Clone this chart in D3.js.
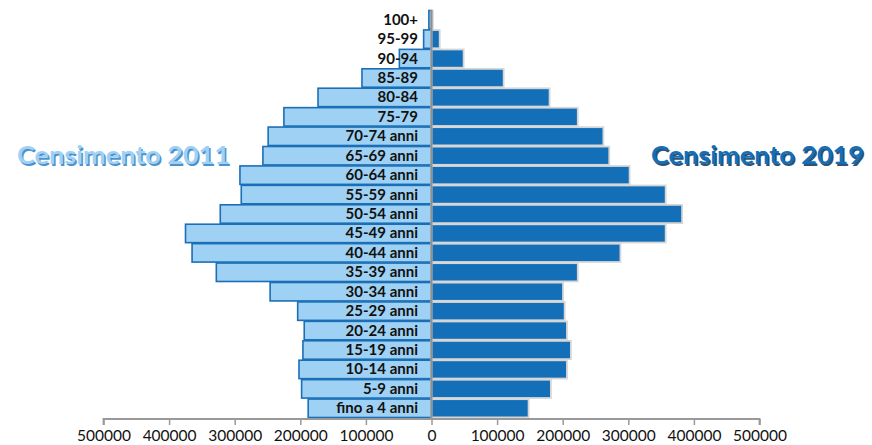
<!DOCTYPE html>
<html>
<head>
<meta charset="utf-8">
<script src="https://cdn.jsdelivr.net/npm/d3@7"></script>
<style>
  html, body { margin: 0; padding: 0; background: #fff; }
  svg { display: block; }
</style>
</head>
<body>
<svg id="chart" width="872" height="445"></svg>
<script>
// Age classes, top to bottom
const categories = ["100+", "95-99", "90-94", "85-89", "80-84", "75-79", "70-74 anni", "65-69 anni",
  "60-64 anni", "55-59 anni", "50-54 anni", "45-49 anni", "40-44 anni", "35-39 anni", "30-34 anni",
  "25-29 anni", "20-24 anni", "15-19 anni", "10-14 anni", "5-9 anni", "fino a 4 anni"];
// Population, Censimento 2011 (left side)
const census2011 = [4000, 12000, 49000, 106000, 173000, 225000, 249000, 257000, 292000, 290000,
  322000, 375000, 365000, 328000, 246000, 204000, 194000, 196000, 202000, 198000, 188000];
// Population, Censimento 2019 (right side)
const census2019 = [2000, 12500, 49000, 110000, 180000, 223000, 262000, 271000, 302000, 357000,
  382000, 357000, 288000, 223000, 200500, 203000, 206500, 212500, 206500, 182000, 148000];
const tickValues = [-500000, -400000, -300000, -200000, -100000, 0, 100000, 200000, 300000, 400000, 500000];
const seriesNames = ["Censimento 2011", "Censimento 2019"];

const svg = d3.select("#chart");
const x = d3.scaleLinear().domain([-500000, 500000]).range([103.5, 759.5]);
const y = d3.scaleBand().domain(categories).range([10, 418]).padding(0);

// Left bars (2011)
svg.append("g").selectAll("rect").data(categories).join("rect")
  .attr("x", (d, i) => x(-census2011[i]))
  .attr("y", d => y(d) + 0.5)
  .attr("width", (d, i) => x(0) - x(-census2011[i]))
  .attr("height", y.bandwidth() - 1)
  .attr("fill", "#9fd1f4")
  .attr("stroke", "#1b6fb6")
  .attr("stroke-width", 1.6);

// Right bars (2019)
svg.append("g").selectAll("rect").data(categories).join("rect")
  .attr("x", x(0))
  .attr("y", d => y(d) + 0.6)
  .attr("width", (d, i) => x(census2019[i]) - x(0))
  .attr("height", y.bandwidth() - 1.2)
  .attr("fill", "#136fb8")
  .attr("stroke", "#d6d6d6")
  .attr("stroke-width", 1.8);

// Category labels
svg.append("g").selectAll("text").data(categories).join("text")
  .attr("x", 418)
  .attr("y", d => y(d) + y.bandwidth() / 2 + 5)
  .attr("text-anchor", "end")
  .attr("font-family", "Lato, 'Open Sans', sans-serif")
  .attr("font-weight", "bold")
  .attr("font-size", 15)
  .attr("fill", "#111")
  .text(d => d);

// Vertical axis line at zero
svg.append("line")
  .attr("x1", x(0)).attr("x2", x(0))
  .attr("y1", 10).attr("y2", 419)
  .attr("stroke", "#8f8f8f").attr("stroke-width", 2);

// Bottom axis
const axis = d3.axisBottom(x).tickValues(tickValues).tickSize(6)
  .tickFormat(d => String(Math.abs(d)));
const ag = svg.append("g").attr("transform", "translate(0,419)").call(axis);
ag.select(".domain").attr("stroke", "#999").attr("stroke-width", 1.8)
  .attr("d", `M${x(-500000)},6V0H${x(500000)}V6`);
ag.selectAll(".tick line").attr("stroke", "#999").attr("stroke-width", 1.5);
ag.selectAll(".tick text")
  .attr("y", 22).attr("dy", null)
  .attr("font-family", "Lato, 'Open Sans', sans-serif")
  .attr("font-size", 15.5)
  .attr("fill", "#111");

// Series titles with shadow
function title(txt, xPos, fill, shadow) {
  svg.append("text")
    .attr("x", xPos + 1.5).attr("y", 165.5)
    .attr("font-family", "Lato, 'Open Sans', sans-serif")
    .attr("font-weight", "bold").attr("font-size", 25)
    .attr("textLength", 213).attr("lengthAdjust", "spacingAndGlyphs")
    .attr("fill", shadow).attr("opacity", 0.85)
    .text(txt);
  svg.append("text")
    .attr("x", xPos).attr("y", 164)
    .attr("font-family", "Lato, 'Open Sans', sans-serif")
    .attr("font-weight", "bold").attr("font-size", 25)
    .attr("textLength", 213).attr("lengthAdjust", "spacingAndGlyphs")
    .attr("fill", fill)
    .text(txt);
}
title(seriesNames[0], 17, "#9fd1f4", "#2e7fc4");
title(seriesNames[1], 651, "#136fb8", "#0b355e");
</script>
</body>
</html>
